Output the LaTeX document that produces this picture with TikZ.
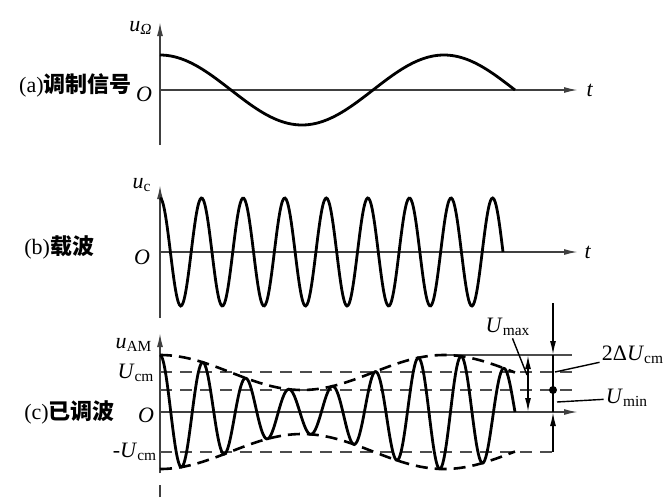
\documentclass[tikz,border=0pt]{standalone}
\usepackage{fontspec}
\setmainfont{Liberation Serif}
\newfontfamily\cjk{Noto Sans CJK SC}
\usetikzlibrary{arrows.meta}

\begin{document}
\begin{tikzpicture}[x=0.5pt, y=0.5pt,
	axis/.style={line width=0.8pt, black!75, -{Latex[length=7pt, width=3pt]}},
	wave/.style={line width=1.4pt, smooth},
	guide/.style={line width=0.9pt, black!70, dash pattern=on 6pt off 4pt},
	env/.style={line width=1.3pt, smooth, dash pattern=on 6pt off 3.5pt},
	lbl/.style={font=\fontsize{11}{13}\selectfont, inner sep=1pt}]
			\useasboundingbox (0,0) rectangle (669,500);

			% (a)
			\draw[axis] (160,355) -- (160,478);
			\draw[axis] (160,410) -- (578,410);
			\draw[wave, variable=\x, samples=120, domain=160:515]
			plot ({\x}, {410+35*cos((\x-160)/284*360)});
			\node[lbl] (ua) at (141,472) {\textit{u}\textsubscript{\textit{Ω}}};
			\node[lbl] (oa) at (144,406) {\textit{O}};
			\node[lbl] (ta) at (590,410) {\textit{t}};
			\node[lbl, anchor=east] (la) at (134,415) {(a){\cjk\bfseries 调制信号}};

			% (b)
			\draw[axis] (160,182) -- (160,315);
			\draw[axis] (160,248) -- (578,248);
			\draw[wave, variable=\x, samples=300, domain=160:503]
			plot ({\x}, {248+54*cos((\x-160)/343*2970)});
			\node[lbl] (ub) at (142,315) {\textit{u}\textsubscript{c}};
			\node[lbl] (ob) at (142,243) {\textit{O}};
			\node[lbl] (tb) at (588,248) {\textit{t}};
			\node[lbl, anchor=west] (lb) at (22,253) {(b){\cjk\bfseries 载波}};

			% (c)
			\draw[axis] (160,27) -- (160,167);
			\draw[line width=0.8pt, black!75] (160,3) -- (160,15);
			\draw[axis] (160,88) -- (578,88);
			\draw[line width=0.9pt, black!70] (440,145) -- (572,145);
			\draw[guide] (160,128) -- (577,128);
			\draw[guide] (160,110) -- (577,110);
			\draw[guide] (160,48) -- (553,48);

			\draw[env, variable=\x, samples=100, domain=160:515]
			plot ({\x}, {88+39.5+17.5*cos((\x-160)/284*360)});
			\draw[env, variable=\x, samples=100, domain=160:515]
			plot ({\x}, {88-39.5-17.5*cos((\x-160)/284*360)});
			\draw[wave, variable=\x, samples=400, domain=160:515]
			plot ({\x}, {88+(39.5+17.5*cos((\x-160)/284*360))*cos((\x-160)/355*2970)});

			\coordinate (vtop) at (553,197);
			\coordinate (vmax) at (553,145);
			\coordinate (vmin) at (553,110);
			\coordinate (vzero) at (553,88);
			\coordinate (vbot) at (553,48);
			\draw[line width=0.8pt, -{Latex[length=7pt, width=3pt]}] (vtop) -- (vmax);
			\draw[line width=0.8pt] (vmax) -- (vzero);
			\draw[line width=0.8pt, -{Latex[length=7pt, width=3pt]}] (vbot) -- (vzero);
			\fill (vmin) circle (4);

			\coordinate (dtop) at (528,145);
			\coordinate (dbot) at (528,88);
			\draw[line width=0.8pt, {Latex[length=7pt, width=3pt]}-{Latex[length=7pt, width=3pt]}] (dtop) -- (dbot);

			\node[lbl] (umax) at (508,173) {\textit{U}\textsubscript{max}};
			\node[lbl] (dumcm) at (633,145) {2Δ\textit{U}\textsubscript{cm}};
			\node[lbl] (umin) at (627,102) {\textit{U}\textsubscript{min}};
			\coordinate (pmax) at (527,125);
			\coordinate (pdum) at (555,128);
			\coordinate (pmin) at (557,98);
			\draw[line width=0.7pt] (umax) -- (pmax);
			\draw[line width=0.7pt] (dumcm) -- (pdum);
			\draw[line width=0.7pt] (umin) -- (pmin);

			\node[lbl] (uc) at (134,155) {\textit{u}\textsubscript{AM}};
			\node[lbl] (ucm) at (136,127) {\textit{U}\textsubscript{cm}};
			\node[lbl] (oc) at (146,85) {\textit{O}};
			\node[lbl] (nucm) at (135,48) {-\textit{U}\textsubscript{cm}};
			\node[lbl, anchor=west] (lc) at (22,88) {(c){\cjk\bfseries 已调波}};

		\end{tikzpicture}
\end{document}
